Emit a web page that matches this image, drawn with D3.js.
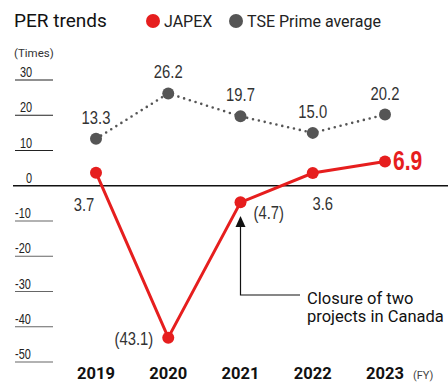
<!DOCTYPE html>
<html>
<head>
<meta charset="utf-8">
<script src="https://cdn.jsdelivr.net/npm/d3@7"></script>
<style>
  body { margin: 0; background: #fff; }
  svg { display: block; font-family: Roboto, "Liberation Sans", sans-serif; }
  .num { font-family: "Liberation Sans", Arial, sans-serif; }
</style>
</head>
<body>
<svg id="chart" width="448" height="384"></svg>
<script>
// PER trends: JAPEX vs TSE Prime average
const years = ['2019', '2020', '2021', '2022', '2023'];
const japex = [3.7, -43.1, -4.7, 3.6, 6.9];
const tseAvg = [13.3, 26.2, 19.7, 15.0, 20.2];
const japexLabels = ['3.7', '(43.1)', '(4.7)', '3.6', '6.9'];
const tseLabels = ['13.3', '26.2', '19.7', '15.0', '20.2'];
const yTicks = [30, 20, 10, 0, -10, -20, -30, -40, -50];

const RED = '#e61e1e';
const GRAY = '#555555';
const SQ = 0.78; // horizontal squeeze to mimic condensed face

const svg = d3.select('#chart');

const x = d3.scalePoint().domain(years).range([96, 385]);
const y = d3.scaleLinear().domain([-50, 30]).range([362, 80]);

// title + legend
svg.append('text').attr('x', 14).attr('y', 27)
  .attr('font-size', 19).attr('fill', '#111').text('PER trends');
svg.append('circle').attr('cx', 153).attr('cy', 21).attr('r', 7).attr('fill', RED);
svg.append('text').attr('x', 164).attr('y', 27).attr('font-size', 16).attr('fill', '#222').text('JAPEX');
svg.append('circle').attr('cx', 236).attr('cy', 21).attr('r', 7).attr('fill', GRAY);
svg.append('text').attr('x', 247).attr('y', 27).attr('font-size', 16).attr('fill', '#222').text('TSE Prime average');
svg.append('text').attr('x', 14).attr('y', 57).attr('font-size', 11.5).attr('fill', '#333').text('(Times)');

// y ticks: label with short underline
const tick = svg.append('g').selectAll('g').data(yTicks).join('g')
  .attr('transform', d => `translate(0,${y(d)})`);
tick.filter(d => d !== 0).append('line')
  .attr('x1', 15).attr('x2', 53).attr('stroke', d => d < 0 ? '#666' : '#222').attr('stroke-width', 1.2);
tick.append('text').attr('class', 'num')
  .attr('transform', d => `translate(${d < 0 ? 15 : (d === 0 ? 26 : 20)},-3) scale(${SQ},1)`)
  .attr('font-size', 14).attr('fill', '#222').text(d => d);

// zero line
svg.append('line').attr('x1', 13).attr('x2', 448)
  .attr('y1', y(0)).attr('y2', y(0)).attr('stroke', '#111').attr('stroke-width', 1.5);

// x axis labels
svg.append('g').selectAll('text').data(years).join('text')
  .attr('x', d => x(d)).attr('y', 379).attr('text-anchor', 'middle')
  .attr('font-size', 16.5).attr('font-weight', 'bold').attr('fill', '#111').text(d => d);
svg.append('text').attr('x', 413).attr('y', 379).attr('font-size', 11).attr('fill', '#444').text('(FY)');

// annotation arrow
const ax = x('2021');
svg.append('path')
  .attr('d', `M${ax},226 V295 H300`)
  .attr('fill', 'none').attr('stroke', '#111').attr('stroke-width', 1.2);
svg.append('path')
  .attr('d', `M${ax},216 L${ax - 5},227 L${ax + 5},227 Z`).attr('fill', '#111');
svg.append('text').attr('x', 307).attr('y', 304).attr('font-size', 16.5).attr('fill', '#111').text('Closure of two');
svg.append('text').attr('x', 307).attr('y', 322).attr('font-size', 16.5).attr('fill', '#111').text('projects in Canada');

// TSE Prime average (dotted)
const line = d3.line().x((d, i) => x(years[i])).y(d => y(d));
svg.append('path').datum(tseAvg).attr('d', line)
  .attr('fill', 'none').attr('stroke', GRAY).attr('stroke-width', 2.6)
  .attr('stroke-dasharray', '0 6').attr('stroke-linecap', 'round');
svg.append('g').selectAll('circle').data(tseAvg).join('circle')
  .attr('cx', (d, i) => x(years[i])).attr('cy', d => y(d)).attr('r', 6).attr('fill', GRAY);
svg.append('g').selectAll('text').data(tseAvg).join('text').attr('class', 'num')
  .attr('transform', (d, i) => `translate(${x(years[i])},${y(d) - 15}) scale(${SQ},1)`)
  .attr('text-anchor', 'middle').attr('font-size', 19).attr('fill', '#333')
  .text((d, i) => tseLabels[i]);

// JAPEX
svg.append('path').datum(japex).attr('d', line)
  .attr('fill', 'none').attr('stroke', RED).attr('stroke-width', 3);
svg.append('g').selectAll('circle').data(japex).join('circle')
  .attr('cx', (d, i) => x(years[i])).attr('cy', d => y(d)).attr('r', 6).attr('fill', RED);

// JAPEX labels: offsets per point
const jOff = [
  { dx: -12, dy: 38, anchor: 'middle' },
  { dx: -15, dy: 7, anchor: 'end' },
  { dx: 13, dy: 17, anchor: 'start' },
  { dx: 10, dy: 37, anchor: 'middle' },
  { dx: 8, dy: 9, anchor: 'start' }
];
svg.append('g').selectAll('text').data(japex).join('text').attr('class', 'num')
  .attr('transform', (d, i) => `translate(${x(years[i]) + jOff[i].dx},${y(d) + jOff[i].dy}) scale(${SQ},1)`)
  .attr('text-anchor', (d, i) => jOff[i].anchor)
  .attr('font-size', (d, i) => i === 4 ? 27 : 19)
  .attr('font-weight', (d, i) => i === 4 ? 'bold' : 'normal')
  .attr('fill', (d, i) => i === 4 ? RED : '#333')
  .text((d, i) => japexLabels[i]);
</script>
</body>
</html>
